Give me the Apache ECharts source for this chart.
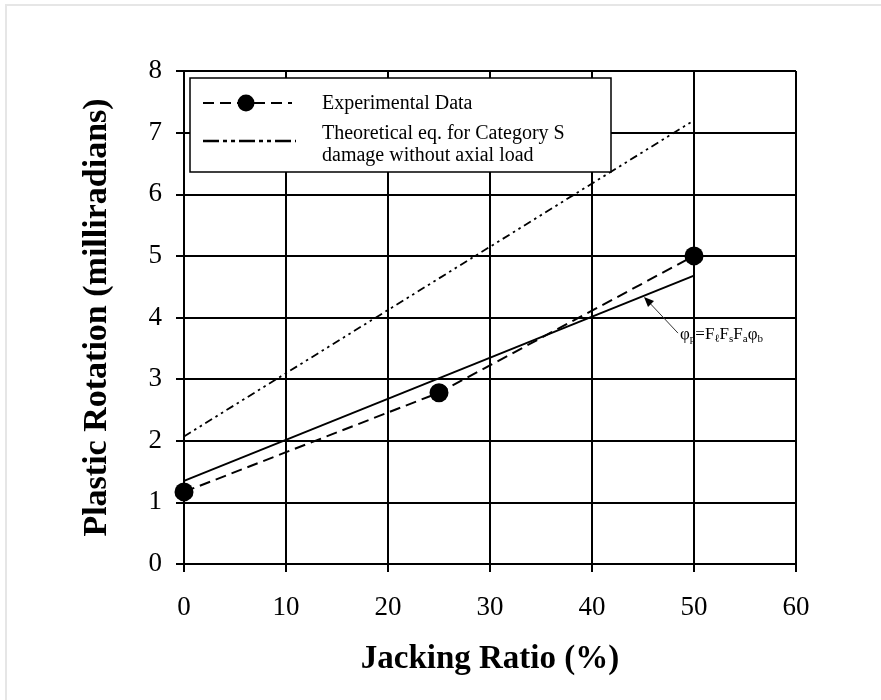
<!DOCTYPE html>
<html>
<head>
<meta charset="utf-8">
<script src="https://cdn.jsdelivr.net/npm/echarts@6/dist/echarts.min.js"></script>
<style>
  html, body { margin: 0; padding: 0; background: #fff; }
  #chart { width: 881px; height: 700px; }
</style>
</head>
<body>
<div id="chart"></div>
<script>
// Jacking ratio (%) and plastic rotation (milliradians)
const xTicks = [0, 10, 20, 30, 40, 50, 60];
const yTicks = [0, 1, 2, 3, 4, 5, 6, 7, 8];

const expJacking = [0, 25, 50];
const expRotation = [1.17, 2.78, 5.0];

const theoJacking = [0, 50];
const theoRotation = [2.07, 7.2];

const eqJacking = [0, 50];
const eqRotation = [1.35, 4.68];

const expName = 'Experimental Data';
const theoLines = ['Theoretical eq. for Category S', 'damage without axial load'];

const pair = (xs, ys) => xs.map((x, i) => [x, ys[i]]);
const FONT = '"Liberation Serif", "Times New Roman", serif';

const EXP_DASH = [11, 6];
const THEO_DASH = [8, 4, 2.5, 4, 2.5, 4];

const chart = echarts.init(document.getElementById('chart'), null, { renderer: 'canvas' });

chart.setOption({
  backgroundColor: '#fff',
  animation: false,
  grid: { left: 184, right: 85, top: 71, bottom: 136, containLabel: false },
  xAxis: {
    type: 'value',
    min: xTicks[0], max: xTicks[xTicks.length - 1], interval: 10,
    name: 'Jacking Ratio (%)',
    nameLocation: 'middle',
    nameGap: 79,
    nameTextStyle: { fontFamily: FONT, fontSize: 33, fontWeight: 'bold', color: '#000' },
    axisLine: { show: true, lineStyle: { color: '#000', width: 2 } },
    axisTick: { show: true, inside: false, length: 8, lineStyle: { color: '#000', width: 2 } },
    axisLabel: { fontFamily: FONT, fontSize: 27, color: '#000', margin: 30 },
    splitLine: { show: true, lineStyle: { color: '#000', width: 2 } }
  },
  yAxis: {
    type: 'value',
    min: yTicks[0], max: yTicks[yTicks.length - 1], interval: 1,
    name: 'Plastic Rotation (milliradians)',
    nameLocation: 'middle',
    nameGap: 70,
    nameRotate: 90,
    nameTextStyle: { fontFamily: FONT, fontSize: 34, fontWeight: 'bold', color: '#000' },
    axisLine: { show: true, lineStyle: { color: '#000', width: 2 } },
    axisTick: { show: true, inside: false, length: 8, lineStyle: { color: '#000', width: 2 } },
    axisLabel: { fontFamily: FONT, fontSize: 27, color: '#000', margin: 22 },
    splitLine: { show: true, lineStyle: { color: '#000', width: 2 } }
  },
  series: [
    {
      name: expName,
      type: 'line',
      data: pair(expJacking, expRotation),
      symbol: 'circle',
      symbolSize: 19,
      lineStyle: { color: '#000', width: 2, type: EXP_DASH },
      itemStyle: { color: '#000' },
      z: 5
    },
    {
      name: theoLines.join(' '),
      type: 'line',
      data: pair(theoJacking, theoRotation),
      symbol: 'none',
      lineStyle: { color: '#000', width: 1.8, type: THEO_DASH },
      z: 4
    },
    {
      name: 'eq',
      type: 'line',
      data: pair(eqJacking, eqRotation),
      symbol: 'none',
      lineStyle: { color: '#000', width: 2, type: 'solid' },
      z: 4
    }
  ]
});

// Legend box, leader arrow and equation label
function placeOverlay() {
  const target = chart.convertToPixel({ gridIndex: 0 }, [45, eqRotation[0] + (eqRotation[1] - eqRotation[0]) * 45 / 50]);
  const labelPt = [target[0] + 35, target[1] + 37];
  const main = { fontFamily: FONT, fontSize: 17, fill: '#000', lineHeight: 20, verticalAlign: 'bottom' };
  const sub = { fontFamily: FONT, fontSize: 11, fill: '#000', lineHeight: 20, verticalAlign: 'bottom', padding: [0, 0, -1, 0] };
  chart.setOption({
    graphic: [
      {
        type: 'rect', silent: true, z: -10,
        shape: { x: 6, y: 5, width: 900, height: 900 },
        style: { fill: 'none', stroke: '#e6e6e6', lineWidth: 2 }
      },
      // legend
      {
        type: 'rect', silent: true, z: 20,
        shape: { x: 190, y: 78, width: 421, height: 94 },
        style: { fill: '#fff', stroke: '#000', lineWidth: 1.5 }
      },
      {
        type: 'line', silent: true, z: 21,
        shape: { x1: 203, y1: 103, x2: 292, y2: 103 },
        style: { stroke: '#000', lineWidth: 2, lineDash: EXP_DASH }
      },
      {
        type: 'circle', silent: true, z: 22,
        shape: { cx: 246, cy: 103, r: 8.5 },
        style: { fill: '#000' }
      },
      {
        type: 'text', silent: true, z: 22,
        x: 322, y: 104,
        style: { text: expName, fontFamily: FONT, fontSize: 20, fill: '#000', verticalAlign: 'middle' }
      },
      {
        type: 'line', silent: true, z: 21,
        shape: { x1: 203, y1: 141, x2: 296, y2: 141 },
        style: { stroke: '#000', lineWidth: 2.5, lineDash: [16, 4, 4, 4, 4, 4] }
      },
      {
        type: 'text', silent: true, z: 22,
        x: 322, y: 134,
        style: { text: theoLines[0], fontFamily: FONT, fontSize: 20, fill: '#000', verticalAlign: 'middle' }
      },
      {
        type: 'text', silent: true, z: 22,
        x: 322, y: 156,
        style: { text: theoLines[1], fontFamily: FONT, fontSize: 20, fill: '#000', verticalAlign: 'middle' }
      },
      // equation callout
      {
        type: 'line', silent: true, z: 10,
        shape: { x1: labelPt[0], y1: labelPt[1], x2: target[0] + 4, y2: target[1] + 4 },
        style: { stroke: '#333', lineWidth: 1 }
      },
      {
        type: 'polygon', silent: true, z: 10,
        shape: { points: [[target[0] + 1, target[1] + 1], [target[0] + 11, target[1] + 5], [target[0] + 5, target[1] + 11]] },
        style: { fill: '#000' }
      },
      {
        type: 'text', silent: true, z: 10,
        x: labelPt[0] + 2, y: labelPt[1],
        style: {
          text: '{m|φ}{s|p}{m|=F}{s|ℓ}{m|F}{s|s}{m|F}{s|a}{m|φ}{s|b}',
          fontFamily: FONT, fontSize: 17, fill: '#000', verticalAlign: 'middle', align: 'left',
          rich: { m: main, s: sub }
        }
      }
    ]
  });
}
placeOverlay();
</script>
</body>
</html>
